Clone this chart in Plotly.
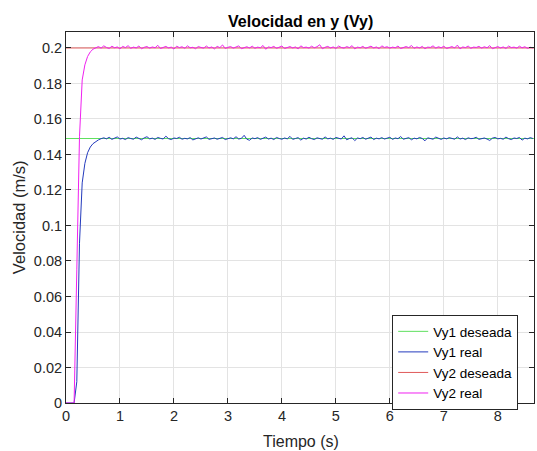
import numpy as np
import plotly.graph_objects as go

# time grid (s)
t = np.round(np.arange(0, 8.651, 0.05), 3)
t_ref = [0.0, 8.67]

vy1_deseada = [0.149, 0.149]
vy2_deseada = [0.2, 0.2]

vy1_real = [
    0, 0, 0, 0, 0.012, 0.09, 0.124, 0.135, 0.1410, 0.1442,
    0.1461, 0.1473, 0.1482, 0.1489, 0.1494,
    0.1488, 0.1497, 0.1485, 0.1493, 0.1499, 0.1487, 0.1491, 0.1484, 0.1495, 0.1490,
    0.1486, 0.1498, 0.1489, 0.1483, 0.1494, 0.1500, 0.1488, 0.1492, 0.1485, 0.1496,
    0.1491, 0.1487, 0.1503, 0.1489, 0.1484, 0.1493, 0.1490, 0.1497, 0.1486, 0.1491,
    0.1488, 0.1495, 0.1482, 0.1490, 0.1494, 0.1487, 0.1492, 0.1499, 0.1485, 0.1490,
    0.1493, 0.1486, 0.1491, 0.1496, 0.1484, 0.1489, 0.1494, 0.1488, 0.1500, 0.1487,
    0.1491, 0.1508, 0.1486, 0.1480, 0.1493, 0.1489, 0.1495, 0.1485, 0.1491, 0.1498,
    0.1487, 0.1492, 0.1484, 0.1496, 0.1490, 0.1486, 0.1493, 0.1488, 0.1502, 0.1485,
    0.1490, 0.1495, 0.1481, 0.1492, 0.1487, 0.1497, 0.1489, 0.1484, 0.1494, 0.1490,
    0.1486, 0.1499, 0.1488, 0.1492, 0.1485, 0.1496, 0.1491, 0.1487, 0.1505, 0.1483,
    0.1490, 0.1494, 0.1478, 0.1493, 0.1489, 0.1496, 0.1486, 0.1491, 0.1498, 0.1484,
    0.1492, 0.1488, 0.1495, 0.1487, 0.1490, 0.1497, 0.1485, 0.1493, 0.1489, 0.1501,
    0.1486, 0.1491, 0.1495, 0.1483, 0.1492, 0.1488, 0.1496, 0.1490, 0.1477, 0.1494,
    0.1489, 0.1486, 0.1498, 0.1491, 0.1485, 0.1493, 0.1488, 0.1495, 0.1490, 0.1486,
    0.1499, 0.1487, 0.1492, 0.1484, 0.1494, 0.1489, 0.1491, 0.1497, 0.1485, 0.1490,
    0.1493, 0.1487, 0.1479, 0.1492, 0.1496, 0.1488, 0.1491, 0.1486, 0.1498, 0.1489,
    0.1484, 0.1493, 0.1490, 0.1496, 0.1481, 0.1492, 0.1488, 0.1495, 0.1490,
]

vy2_real = [
    0, 0, 0, 0, 0.075, 0.150, 0.182, 0.1905, 0.1952, 0.1978, 0.1993, 0.2001,
    0.2008, 0.1999, 0.2012, 0.2003, 0.1997, 0.2010, 0.2001, 0.2006, 0.1995, 0.2009,
    0.2002, 0.2013, 0.1998, 0.2005, 0.2000, 0.2011, 0.1996, 0.2004, 0.2008, 0.1999,
    0.2006, 0.2001, 0.2015, 0.1997, 0.2003, 0.2009, 0.2000, 0.2005, 0.1994, 0.2010,
    0.2002, 0.2007, 0.1998, 0.2012, 0.2001, 0.2004, 0.1996, 0.2008, 0.2003, 0.1999,
    0.2011, 0.2000, 0.2006, 0.1995, 0.2009, 0.2002, 0.2017, 0.1997, 0.2004, 0.2008,
    0.1999, 0.2005, 0.2012, 0.1996, 0.2003, 0.2007, 0.2000, 0.2010, 0.1998, 0.2005,
    0.2001, 0.2014, 0.1993, 0.2006, 0.2002, 0.2009, 0.1998, 0.2004, 0.2011, 0.1997,
    0.2003, 0.2008, 0.2000, 0.2006, 0.1995, 0.2012, 0.2002, 0.2005, 0.1999, 0.2010,
    0.2001, 0.2007, 0.2018, 0.1996, 0.2004, 0.2009, 0.2000, 0.2006, 0.1997, 0.2011,
    0.2003, 0.1999, 0.2008, 0.2002, 0.2013, 0.1995, 0.2005, 0.2001, 0.2009, 0.1998,
    0.2004, 0.2010, 0.2000, 0.2006, 0.1996, 0.2012, 0.2003, 0.2007, 0.1999, 0.2005,
    0.2001, 0.2011, 0.1997, 0.2004, 0.2008, 0.2002, 0.2014, 0.1998, 0.2006, 0.2000,
    0.2009, 0.1996, 0.2005, 0.2003, 0.2012, 0.1999, 0.2007, 0.2001, 0.2010, 0.1997,
    0.2004, 0.2008, 0.2000, 0.2016, 0.1995, 0.2006, 0.2002, 0.2011, 0.1998, 0.2005,
    0.2003, 0.2009, 0.1999, 0.2007, 0.2001, 0.2013, 0.1996, 0.2004, 0.2008, 0.2000,
    0.2006, 0.1997, 0.2011, 0.2002, 0.2005, 0.1999, 0.2010, 0.2001, 0.2007, 0.1998,
    0.2004, 0.2000,
]

x_ticks = [0, 1, 2, 3, 4, 5, 6, 7, 8]
y_ticks = [0, 0.02, 0.04, 0.06, 0.08, 0.1, 0.12, 0.14, 0.16, 0.18, 0.2]
y_tick_labels = ["0", "0.02", "0.04", "0.06", "0.08", "0.1", "0.12", "0.14", "0.16", "0.18", "0.2"]

FONT = "Liberation Sans, Arial, sans-serif"

fig = go.Figure()
fig.add_trace(go.Scatter(x=t_ref, y=vy1_deseada, mode="lines", name="Vy1 deseada",
                         line=dict(color="#5fe05f", width=1)))
fig.add_trace(go.Scatter(x=t, y=vy1_real, mode="lines", name="Vy1 real",
                         line=dict(color="#243bbd", width=1)))
fig.add_trace(go.Scatter(x=t_ref, y=vy2_deseada, mode="lines", name="Vy2 deseada",
                         line=dict(color="#e05a5a", width=1)))
fig.add_trace(go.Scatter(x=t, y=vy2_real, mode="lines", name="Vy2 real",
                         line=dict(color="#f020f0", width=1)))

axis_common = dict(
    showline=True, linecolor="#262626", linewidth=1, mirror="ticks",
    ticks="inside", ticklen=5, tickcolor="#262626",
    showgrid=True, gridcolor="#e3e3e3", gridwidth=1, zeroline=False,
    tickfont=dict(family=FONT, size=14.5, color="#262626"),
    automargin=False,
)

fig.update_layout(
    width=537, height=451,
    margin=dict(l=66, r=3, t=32, b=48),
    paper_bgcolor="white", plot_bgcolor="white",
    xaxis=dict(range=[0, 8.67], tickvals=x_ticks, **axis_common),
    yaxis=dict(range=[0, 0.209], tickvals=y_ticks, ticktext=y_tick_labels, **axis_common),
    legend=dict(x=0.697, y=0.237, xanchor="left", yanchor="top",
                bgcolor="white", bordercolor="#262626", borderwidth=1,
                font=dict(family=FONT, size=13.5, color="#000000"),
                tracegroupgap=0, itemwidth=30),
    showlegend=True,
    annotations=[
        dict(text="<b>Velocidad en y (Vy)</b>", xref="paper", yref="paper",
             x=0.502, y=1.0296, xanchor="center", yanchor="middle", showarrow=False,
             font=dict(family=FONT, size=16, color="#000000")),
        dict(text="Tiempo (s)", xref="paper", yref="paper",
             x=0.502, y=-0.105, xanchor="center", yanchor="middle", showarrow=False,
             font=dict(family=FONT, size=16, color="#262626")),
        dict(text="Velocidad (m/s)", xref="paper", yref="paper", textangle=-90,
             x=-0.1004, y=0.501, xanchor="center", yanchor="middle", showarrow=False,
             font=dict(family=FONT, size=16.5, color="#262626")),
    ],
)

fig.write_html("out.html", config={"displayModeBar": False},
               post_script="document.body.style.margin='0px';")
